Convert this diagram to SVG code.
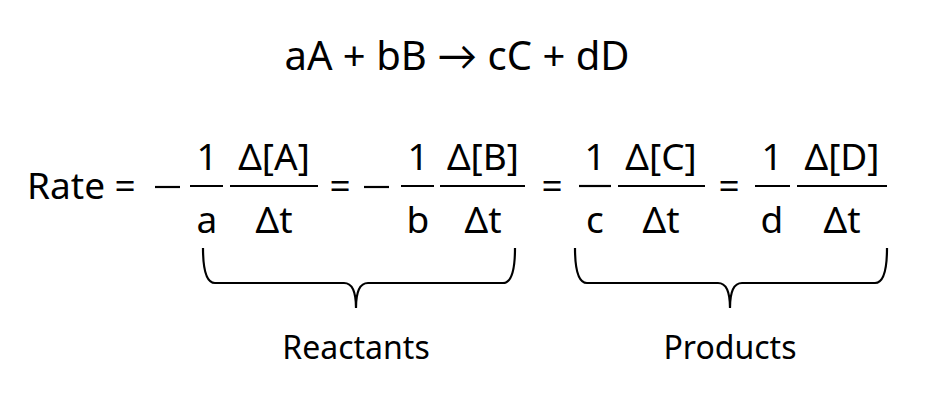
<svg xmlns="http://www.w3.org/2000/svg" width="934" height="400" viewBox="0 0 934 400">
<style>
text{font-family:"Noto Sans","Lato",sans-serif;fill:#000}
.e{font-size:40px;text-anchor:middle}
.t{font-size:37px}
.m{text-anchor:middle}
.l{font-size:32px;text-anchor:middle}
.bar{stroke:#000;stroke-width:2.2}
.br{fill:none;stroke:#000;stroke-width:2.2}
</style>
<rect width="934" height="400" fill="#fff"/>
<g id="equation"><text class="e" x="457" y="70">aA + bB → cC + dD</text></g>
<g id="rate">
<text class="t" x="27" y="199">Rate =</text>
<line class="bar" x1="155" y1="187" x2="180" y2="187"/>
<text class="t m" x="207" y="170">1</text><line class="bar" x1="190" y1="186" x2="223" y2="186"/><text class="t m" x="207" y="233">a</text>
<text class="t m" x="274" y="170">Δ[A]</text><line class="bar" x1="230" y1="186" x2="318" y2="186"/><text class="t m" x="274" y="233">Δt</text>
<text class="t m" x="340" y="199">=</text>
<line class="bar" x1="364" y1="187" x2="389" y2="187"/>
<text class="t m" x="418" y="170">1</text><line class="bar" x1="401" y1="186" x2="434" y2="186"/><text class="t m" x="418" y="233">b</text>
<text class="t m" x="483" y="170">Δ[B]</text><line class="bar" x1="440" y1="186" x2="525" y2="186"/><text class="t m" x="483" y="233">Δt</text>
<text class="t m" x="552" y="199">=</text>
<text class="t m" x="595" y="170">1</text><line class="bar" x1="579" y1="186" x2="611" y2="186"/><text class="t m" x="595" y="233">c</text>
<text class="t m" x="661" y="170">Δ[C]</text><line class="bar" x1="618" y1="186" x2="705" y2="186"/><text class="t m" x="661" y="233">Δt</text>
<text class="t m" x="729" y="199">=</text>
<text class="t m" x="772" y="170">1</text><line class="bar" x1="755" y1="186" x2="790" y2="186"/><text class="t m" x="772" y="233">d</text>
<text class="t m" x="842" y="170">Δ[D]</text><line class="bar" x1="797" y1="186" x2="887" y2="186"/><text class="t m" x="842" y="233">Δt</text>
</g>
<g id="connectors">
<path class="br" d="M203,248 Q203,283 215,283 L344,283 Q356,283 356,308 Q356,283 368,283 L503,283 Q515,283 515,248"/>
<path class="br" d="M575,248 Q575,283 587,283 L718,283 Q730,283 730,308 Q730,283 742,283 L875,283 Q887,283 887,248"/>
</g>
<g id="reactants"><text class="l" x="356" y="359">Reactants</text></g>
<g id="products"><text class="l" x="730" y="359">Products</text></g>
</svg>
